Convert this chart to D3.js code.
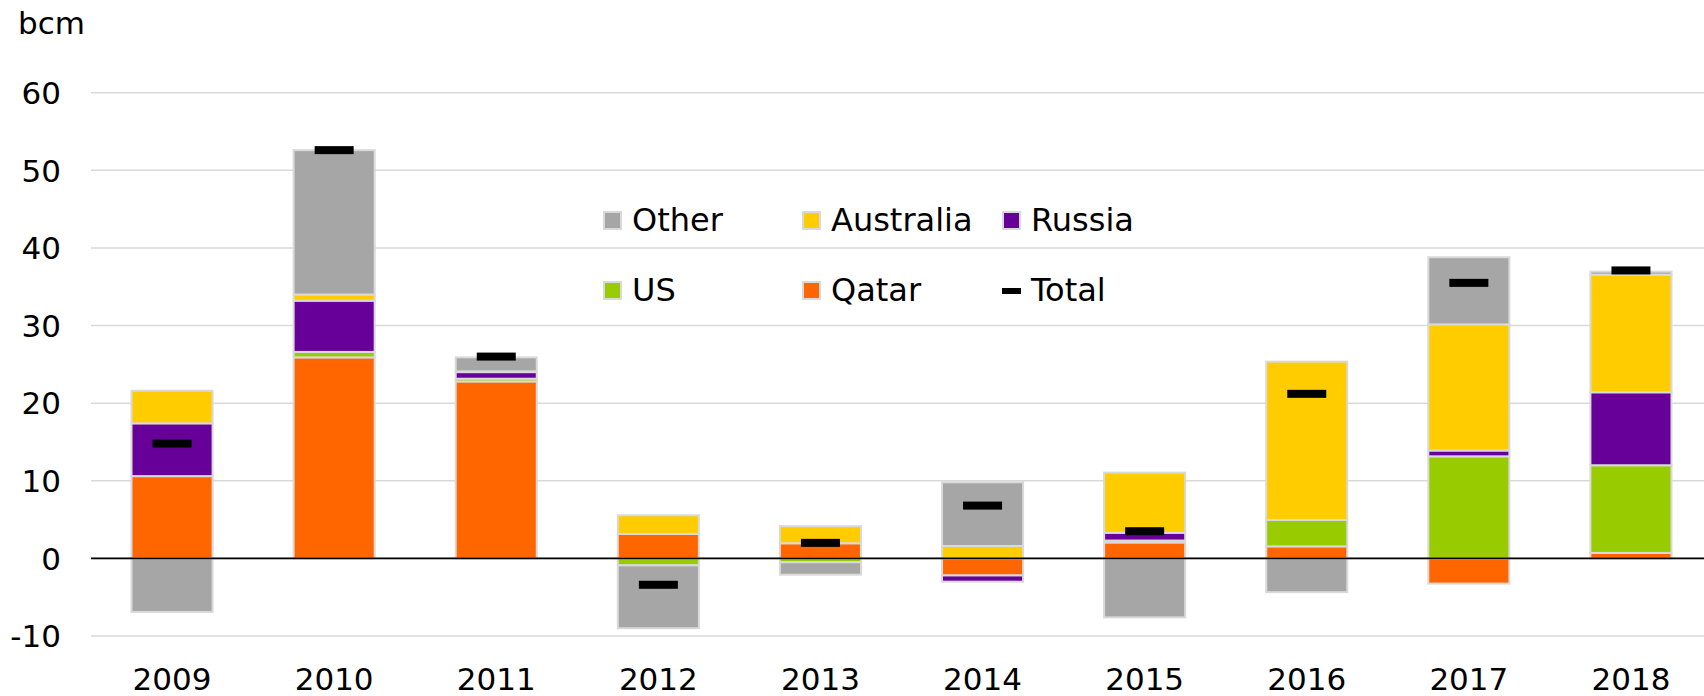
<!DOCTYPE html>
<html>
<head>
<meta charset="utf-8">
<script src="https://cdn.jsdelivr.net/npm/d3@7"></script>
<style>
  body { margin: 0; background: #fff; }
  svg { display: block; font-family: "DejaVu Sans", "Liberation Sans", Arial, sans-serif; }
</style>
</head>
<body>
<script>
const years = ["2009", "2010", "2011", "2012", "2013", "2014", "2015", "2016", "2017", "2018"];
const qatar = [10.6, 25.9, 22.8, 3.15, 1.95, -2.2, 2.05, 1.55, -3.25, 0.7];
const us = [0, 0.7, 0.35, -0.9, -0.5, 0, 0.25, 3.4, 13.15, 11.3];
const russia = [6.8, 6.6, 0.85, 0, 0, -0.8, 1.0, 0, 0.75, 9.4];
const australia = [4.2, 0.8, 0.1, 2.4, 2.2, 1.6, 7.75, 20.4, 16.25, 15.15];
const other = [-6.9, 18.6, 1.8, -8.1, -1.6, 8.2, -7.6, -4.35, 8.65, 0.4];
const total = [14.8, 52.6, 26.0, -3.4, 2.0, 6.8, 3.5, 21.2, 35.5, 37.1];
const yTicks = [-10, 0, 10, 20, 30, 40, 50, 60];

const seriesKeys = ["Qatar", "US", "Russia", "Australia", "Other"];
const colors = {
  Qatar: "#ff6600",
  US: "#99cc00",
  Russia: "#660099",
  Australia: "#ffcc00",
  Other: "#a6a6a6"
};

const width = 1704;
const height = 696;

const rows = years.map((year, i) => ({
  year,
  Qatar: qatar[i],
  US: us[i],
  Russia: russia[i],
  Australia: australia[i],
  Other: other[i],
  total: total[i]
}));

const x = d3.scaleBand()
  .domain(years)
  .range([91, 1712])
  .paddingInner(0.5)
  .paddingOuter(0.25);

const y = d3.scaleLinear()
  .domain([-10, 60])
  .range([636, 92.7]);

const svg = d3.select("body")
  .append("svg")
  .attr("width", width)
  .attr("height", height);

// grid
svg.append("g")
  .selectAll("line")
  .data(yTicks)
  .join("line")
  .attr("x1", 91)
  .attr("x2", width)
  .attr("y1", d => y(d))
  .attr("y2", d => y(d))
  .attr("stroke", "#d9d9d9")
  .attr("stroke-width", 1.5);

svg.append("g")
  .selectAll("text")
  .data(yTicks)
  .join("text")
  .attr("x", 61)
  .attr("y", d => y(d) + 11.3)
  .attr("text-anchor", "end")
  .attr("font-size", 31)
  .attr("fill", "#000")
  .text(d => d);

svg.append("text")
  .attr("x", 18)
  .attr("y", 34)
  .attr("font-size", 31)
  .attr("fill", "#000")
  .text("bcm");

// stacked bars
const stacked = d3.stack()
  .keys(seriesKeys)
  .offset(d3.stackOffsetDiverging)(rows);

svg.append("g")
  .selectAll("g")
  .data(stacked)
  .join("g")
  .attr("fill", d => colors[d.key])
  .selectAll("rect")
  .data(d => d.filter(p => p[0] !== p[1]))
  .join("rect")
  .attr("x", d => x(d.data.year))
  .attr("width", x.bandwidth())
  .attr("y", d => y(Math.max(d[0], d[1])))
  .attr("height", d => Math.abs(y(d[0]) - y(d[1])))
  .attr("stroke", "#d9d9d9")
  .attr("stroke-width", 2);

// zero line
svg.append("line")
  .attr("x1", 91)
  .attr("x2", width)
  .attr("y1", y(0))
  .attr("y2", y(0))
  .attr("stroke", "#000")
  .attr("stroke-width", 1.6);

// totals
svg.append("g")
  .selectAll("rect")
  .data(rows)
  .join("rect")
  .attr("x", d => x(d.year) + x.bandwidth() / 2 - 19.5)
  .attr("y", d => y(d.total) - 4)
  .attr("width", 39)
  .attr("height", 8)
  .attr("fill", "#000");

// x labels
svg.append("g")
  .selectAll("text")
  .data(years)
  .join("text")
  .attr("x", d => x(d) + x.bandwidth() / 2)
  .attr("y", 690)
  .attr("text-anchor", "middle")
  .attr("font-size", 31)
  .attr("fill", "#000")
  .text(d => d);

// legend
const legendItems = [
  { name: "Other", col: 0, row: 0 },
  { name: "Australia", col: 1, row: 0 },
  { name: "Russia", col: 2, row: 0 },
  { name: "US", col: 0, row: 1 },
  { name: "Qatar", col: 1, row: 1 },
  { name: "Total", col: 2, row: 1 }
];
const legendCols = [603, 802, 1002];

const legend = svg.append("g")
  .selectAll("g")
  .data(legendItems)
  .join("g")
  .attr("transform", d => `translate(${legendCols[d.col]},${231 + d.row * 70})`);

legend.filter(d => d.name !== "Total")
  .append("rect")
  .attr("x", 1)
  .attr("y", -19)
  .attr("width", 17)
  .attr("height", 17)
  .attr("fill", d => colors[d.name])
  .attr("stroke", "#d9d9d9")
  .attr("stroke-width", 2);

legend.filter(d => d.name === "Total")
  .append("rect")
  .attr("x", 0)
  .attr("y", -13)
  .attr("width", 19)
  .attr("height", 6)
  .attr("fill", "#000");

legend.append("text")
  .attr("x", 29)
  .attr("y", 0)
  .attr("font-size", 32)
  .attr("fill", "#000")
  .text(d => d.name);
</script>
</body>
</html>
